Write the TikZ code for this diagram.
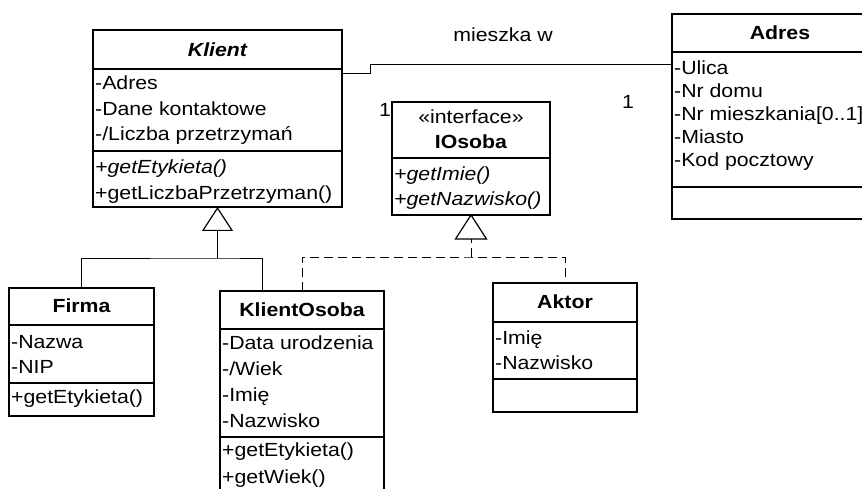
\documentclass[tikz,border=0pt]{standalone}
\usepackage{fontspec}
\setmainfont{Liberation Sans}[FakeStretch=1.12]
\usetikzlibrary{arrows.meta}
\begin{document}
\begin{tikzpicture}[x=1pt,y=-1pt,
  box/.style={draw,line width=1.4pt,inner sep=0pt,outer sep=0pt,anchor=north west},
  sep/.style={line width=1.4pt},
  txt/.style={inner sep=0pt,anchor=west,text height=13.6pt,text depth=0pt,
    font=\fontsize{19pt}{22pt}\selectfont},
  ttl/.style={txt,anchor=center,font=\fontsize{19pt}{22pt}\selectfont\bfseries},
  link/.style={line width=1pt},
  gen/.style={link,-{Triangle[open,length=24pt,width=31pt,line width=1.2pt]}},
  real/.style={link,dash pattern=on 9pt off 5pt},
]
\useasboundingbox (0,0) rectangle (862,489);
\clip (0,0) rectangle (862,489);

% ---- Klient (abstract) ----
\node[box,minimum width=249pt,minimum height=177pt] (klient) at (93,30) {};
\draw[sep] (93,69) -- (342,69);
\draw[sep] (93,151) -- (342,151);
\node[ttl,font=\fontsize{19pt}{22pt}\selectfont\bfseries\itshape] (klientT) at (217.5,49.5) {Klient};
\node[txt] (klientA1) at (95,83) {-Adres};
\node[txt] (klientA2) at (95,108.5) {-Dane kontaktowe};
\node[txt] (klientA3) at (95,134) {-/Liczba przetrzymań};
\node[txt,font=\fontsize{19pt}{22pt}\selectfont\itshape] (klientO1) at (95,167) {+getEtykieta()};
\node[txt] (klientO2) at (95,193) {+getLiczbaPrzetrzyman()};

% ---- IOsoba (interface) ----
\node[box,minimum width=158pt,minimum height=113pt] (iosoba) at (392,102) {};
\draw[sep] (392,158) -- (550,158);
\node[txt,anchor=center] (iosobaS) at (471,117) {«interface»};
\node[ttl] (iosobaT) at (471,142) {IOsoba};
\node[txt,font=\fontsize{19pt}{22pt}\selectfont\itshape] (iosobaO1) at (394,174) {+getImie()};
\node[txt,font=\fontsize{19pt}{22pt}\selectfont\itshape] (iosobaO2) at (394,199) {+getNazwisko()};

% ---- Adres ----
\node[box,minimum width=216pt,minimum height=205pt] (adres) at (672,14) {};
\draw[sep] (672,52) -- (888,52);
\draw[sep] (672,187) -- (888,187);
\node[ttl] (adresT) at (780,33) {Adres};
\node[txt] (adresA1) at (674,68) {-Ulica};
\node[txt] (adresA2) at (674,91) {-Nr domu};
\node[txt] (adresA3) at (674,114) {-Nr mieszkania[0..1]};
\node[txt] (adresA4) at (674,137) {-Miasto};
\node[txt] (adresA5) at (674,160) {-Kod pocztowy};

% ---- Firma ----
\node[box,minimum width=145pt,minimum height=128pt] (firma) at (9,288) {};
\draw[sep] (9,325) -- (154,325);
\draw[sep] (9,383) -- (154,383);
\node[ttl] (firmaT) at (81.5,306) {Firma};
\node[txt] (firmaA1) at (11,342) {-Nazwa};
\node[txt] (firmaA2) at (11,367) {-NIP};
\node[txt] (firmaO1) at (11,397) {+getEtykieta()};

% ---- KlientOsoba ----
\node[box,minimum width=164pt,minimum height=240pt] (ko) at (220,291) {};
\draw[sep] (220,329) -- (384,329);
\draw[sep] (220,437) -- (384,437);
\node[ttl] (koT) at (302,310) {KlientOsoba};
\node[txt] (koA1) at (222,343) {-Data urodzenia};
\node[txt] (koA2) at (222,369) {-/Wiek};
\node[txt] (koA3) at (222,395) {-Imię};
\node[txt] (koA4) at (222,421) {-Nazwisko};
\node[txt] (koO1) at (222,450) {+getEtykieta()};
\node[txt] (koO2) at (222,477) {+getWiek()};

% ---- Aktor ----
\node[box,minimum width=144pt,minimum height=129pt] (aktor) at (493,283) {};
\draw[sep] (493,322) -- (637,322);
\draw[sep] (493,379) -- (637,379);
\node[ttl] (aktorT) at (565,302) {Aktor};
\node[txt] (aktorA1) at (495,338) {-Imię};
\node[txt] (aktorA2) at (495,363) {-Nazwisko};

% ---- association Klient -- Adres ----
\coordinate (asA) at (342,74);
\coordinate (asB) at (672,65);
\draw[link] (asA) -- ++(28,0) |- (asB);
\node[txt,anchor=center] (lblMieszka) at (503,35) {mieszka w};
\node[txt,anchor=center] (lblOne1) at (628,102) {1};
\node[txt,anchor=center] (lblOne2) at (385,110) {1};

% ---- generalization Firma, KlientOsoba -> Klient ----
\coordinate (genJ) at (217.5,258);
\coordinate (koGen) at (262,291);
\draw[gen] (genJ) -- (klient.south);
\draw[link] (firma.north) |- (genJ) -| (koGen);

% ---- realization KlientOsoba, Aktor -> IOsoba ----
\coordinate (realJ) at (471,257);
\draw[real] (realJ) -- (471,239);
\draw[link,fill=white,line width=1.2pt] (iosoba.south) -- ++(-15.5,24) -- ++(31,0) -- cycle;
\draw[real] (ko.north) |- (realJ) -| (aktor.north);
\end{tikzpicture}
\end{document}
